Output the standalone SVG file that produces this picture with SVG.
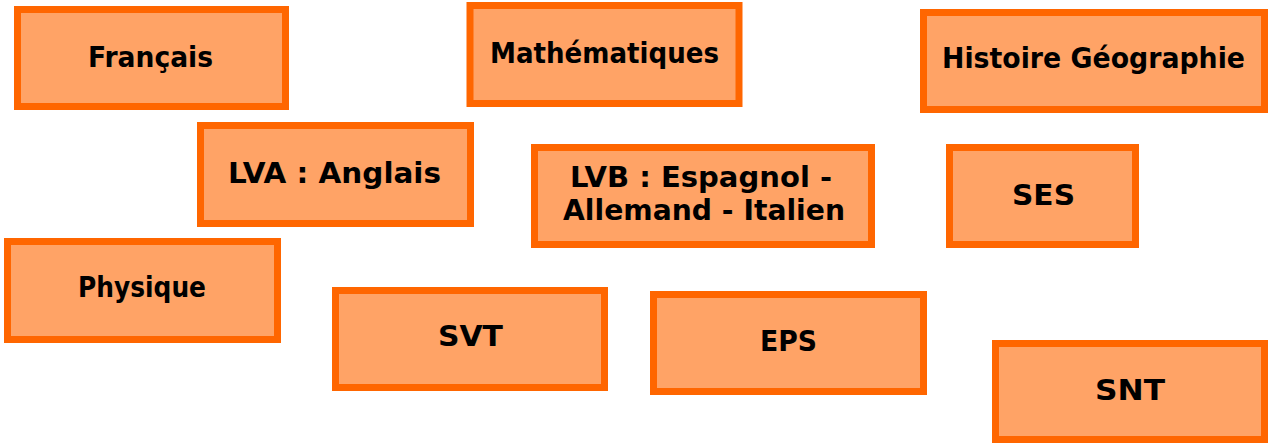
<svg xmlns="http://www.w3.org/2000/svg" width="1270" height="445" viewBox="0 0 1270 445">
<style>
.box{fill:#FFA366;stroke:#FF6600;stroke-width:7}
.lbl{font-family:"DejaVu Sans","Liberation Sans",sans-serif;font-weight:bold;font-size:29px;fill:#000}
</style>
<rect width="1270" height="445" fill="#fff"/>
<g id="connectors"/>
<g id="francais"><rect class="box" x="17.5" y="9.5" width="268" height="97"/><text class="lbl" x="88" y="67" textLength="125" lengthAdjust="spacingAndGlyphs">Français</text></g>
<g id="mathematiques"><rect class="box" x="470" y="5.5" width="269" height="98"/><text class="lbl" x="490" y="63" textLength="229" lengthAdjust="spacingAndGlyphs">Mathématiques</text></g>
<g id="histoire-geographie"><rect class="box" x="923.5" y="12.5" width="341" height="97"/><text class="lbl" x="942" y="68" textLength="303" lengthAdjust="spacingAndGlyphs">Histoire Géographie</text></g>
<g id="lva"><rect class="box" x="200.5" y="125.5" width="270" height="98"/><text class="lbl" x="228" y="183" textLength="213" lengthAdjust="spacingAndGlyphs">LVA : Anglais</text></g>
<g id="lvb"><rect class="box" x="534.5" y="147.5" width="337" height="97"/><text class="lbl" x="570" y="187" textLength="262" lengthAdjust="spacingAndGlyphs">LVB : Espagnol -</text><text class="lbl" x="563" y="220" textLength="282" lengthAdjust="spacingAndGlyphs">Allemand - Italien</text></g>
<g id="ses"><rect class="box" x="949.5" y="147.5" width="186" height="97"/><text class="lbl" x="1012" y="205" textLength="63" lengthAdjust="spacingAndGlyphs">SES</text></g>
<g id="physique"><rect class="box" x="7.5" y="241.5" width="270" height="98"/><text class="lbl" x="78" y="297" textLength="128" lengthAdjust="spacingAndGlyphs">Physique</text></g>
<g id="svt"><rect class="box" x="335.5" y="290.5" width="269" height="97"/><text class="lbl" x="438" y="346" textLength="65" lengthAdjust="spacingAndGlyphs">SVT</text></g>
<g id="eps"><rect class="box" x="653.5" y="294.5" width="270" height="97"/><text class="lbl" x="760" y="351" textLength="57" lengthAdjust="spacingAndGlyphs">EPS</text></g>
<g id="snt"><rect class="box" x="995.5" y="343.5" width="269" height="96"/><text class="lbl" x="1095" y="400" textLength="70" lengthAdjust="spacingAndGlyphs">SNT</text></g>
</svg>
